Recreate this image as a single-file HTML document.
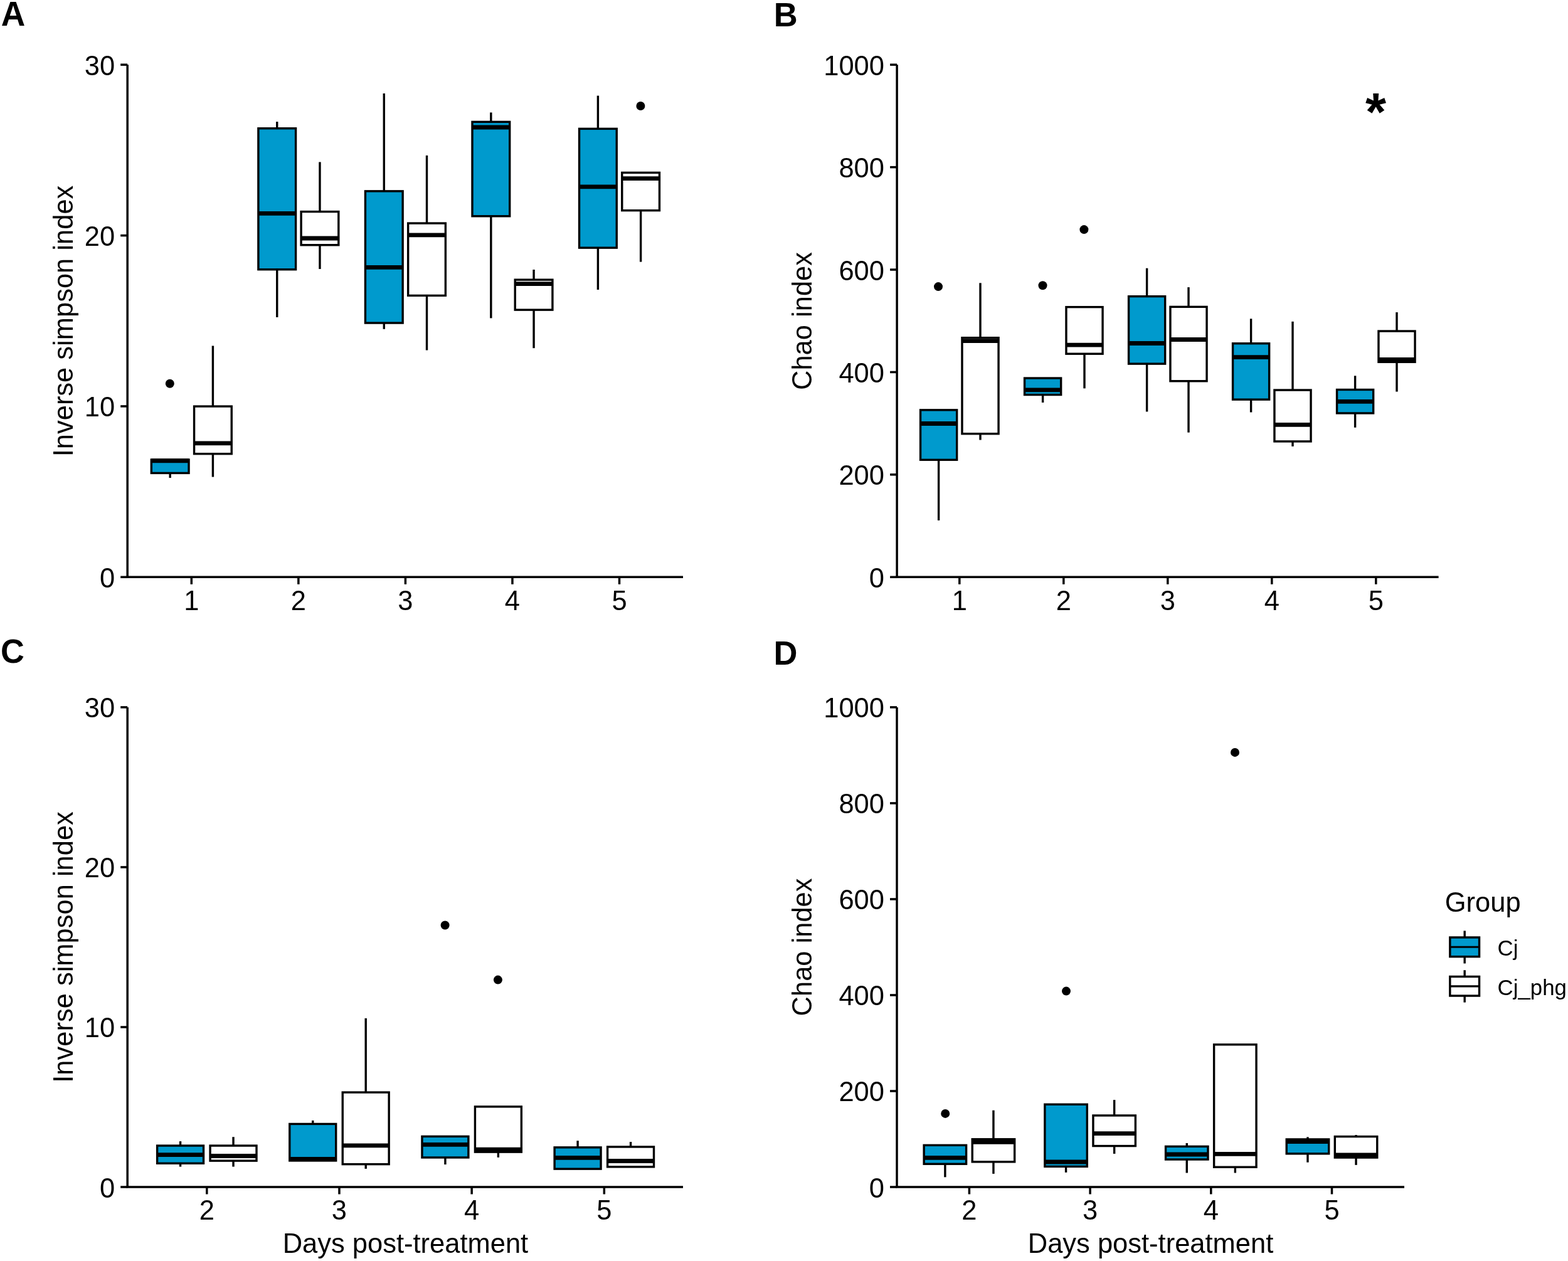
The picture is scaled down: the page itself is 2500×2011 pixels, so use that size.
<!DOCTYPE html><html><head><meta charset="utf-8"><style>html,body{margin:0;padding:0;background:#fff;}svg{display:block;}text{font-family:"Liberation Sans",Arial,sans-serif;fill:#000;stroke:none;}</style></head><body>
<svg width="2500" height="2011" viewBox="0 0 2500 2011">
<rect x="0" y="0" width="2500" height="2011" fill="#fff"/>
<g stroke="#000" stroke-width="3.4" fill="none">
<line x1="203.20" y1="103.20" x2="203.20" y2="920.30" stroke-width="3.5"/>
<line x1="201.45" y1="920.30" x2="1089.00" y2="920.30" stroke-width="3.5"/>
<line x1="192.20" y1="920.30" x2="203.20" y2="920.30" stroke-width="3.5"/>
<text transform="translate(183.20,936.80) scale(1,1.035)" font-size="43.5" text-anchor="end">0</text>
<line x1="192.20" y1="647.93" x2="203.20" y2="647.93" stroke-width="3.5"/>
<text transform="translate(183.20,664.43) scale(1,1.035)" font-size="43.5" text-anchor="end">10</text>
<line x1="192.20" y1="375.57" x2="203.20" y2="375.57" stroke-width="3.5"/>
<text transform="translate(183.20,392.07) scale(1,1.035)" font-size="43.5" text-anchor="end">20</text>
<line x1="192.20" y1="103.20" x2="203.20" y2="103.20" stroke-width="3.5"/>
<text transform="translate(183.20,119.70) scale(1,1.035)" font-size="43.5" text-anchor="end">30</text>
<line x1="305.30" y1="920.30" x2="305.30" y2="931.80" stroke-width="3.5"/>
<text transform="translate(305.30,972.90) scale(1,1.035)" font-size="43.5" text-anchor="middle">1</text>
<line x1="475.85" y1="920.30" x2="475.85" y2="931.80" stroke-width="3.5"/>
<text transform="translate(475.85,972.90) scale(1,1.035)" font-size="43.5" text-anchor="middle">2</text>
<line x1="646.40" y1="920.30" x2="646.40" y2="931.80" stroke-width="3.5"/>
<text transform="translate(646.40,972.90) scale(1,1.035)" font-size="43.5" text-anchor="middle">3</text>
<line x1="816.95" y1="920.30" x2="816.95" y2="931.80" stroke-width="3.5"/>
<text transform="translate(816.95,972.90) scale(1,1.035)" font-size="43.5" text-anchor="middle">4</text>
<line x1="987.50" y1="920.30" x2="987.50" y2="931.80" stroke-width="3.5"/>
<text transform="translate(987.50,972.90) scale(1,1.035)" font-size="43.5" text-anchor="middle">5</text>
</g>
<g stroke="#000" stroke-width="3.4">
<line x1="271.19" y1="754.45" x2="271.19" y2="762.10"/>
<rect x="241.34" y="733.05" width="59.69" height="21.40" fill="#009ACD"/>
<line x1="241.34" y1="734.80" x2="301.04" y2="734.80" stroke-width="6.8"/>
<circle cx="270.80" cy="611.80" r="7" stroke="none" fill="#000"/>
<line x1="339.41" y1="551.50" x2="339.41" y2="648.05"/>
<line x1="339.41" y1="723.75" x2="339.41" y2="760.60"/>
<rect x="309.56" y="648.05" width="59.69" height="75.70" fill="#fff"/>
<line x1="309.56" y1="706.90" x2="369.26" y2="706.90" stroke-width="6.8"/>
<line x1="441.74" y1="194.10" x2="441.74" y2="204.75"/>
<line x1="441.74" y1="429.75" x2="441.74" y2="505.90"/>
<rect x="411.89" y="204.75" width="59.69" height="225.00" fill="#009ACD"/>
<line x1="411.89" y1="340.30" x2="471.59" y2="340.30" stroke-width="6.8"/>
<line x1="509.96" y1="258.40" x2="509.96" y2="337.55"/>
<line x1="509.96" y1="390.75" x2="509.96" y2="429.00"/>
<rect x="480.11" y="337.55" width="59.69" height="53.20" fill="#fff"/>
<line x1="480.11" y1="380.00" x2="539.81" y2="380.00" stroke-width="6.8"/>
<line x1="612.29" y1="149.00" x2="612.29" y2="304.85"/>
<line x1="612.29" y1="515.05" x2="612.29" y2="524.80"/>
<rect x="582.44" y="304.85" width="59.69" height="210.20" fill="#009ACD"/>
<line x1="582.44" y1="426.30" x2="642.14" y2="426.30" stroke-width="6.8"/>
<line x1="680.51" y1="247.90" x2="680.51" y2="356.05"/>
<line x1="680.51" y1="471.35" x2="680.51" y2="558.50"/>
<rect x="650.66" y="356.05" width="59.69" height="115.30" fill="#fff"/>
<line x1="650.66" y1="374.80" x2="710.36" y2="374.80" stroke-width="6.8"/>
<line x1="782.84" y1="179.40" x2="782.84" y2="194.35"/>
<line x1="782.84" y1="344.75" x2="782.84" y2="507.40"/>
<rect x="752.99" y="194.35" width="59.69" height="150.40" fill="#009ACD"/>
<line x1="752.99" y1="203.00" x2="812.69" y2="203.00" stroke-width="6.8"/>
<line x1="851.06" y1="430.00" x2="851.06" y2="446.15"/>
<line x1="851.06" y1="494.15" x2="851.06" y2="555.20"/>
<rect x="821.21" y="446.15" width="59.69" height="48.00" fill="#fff"/>
<line x1="821.21" y1="452.60" x2="880.91" y2="452.60" stroke-width="6.8"/>
<line x1="953.39" y1="152.60" x2="953.39" y2="205.35"/>
<line x1="953.39" y1="395.15" x2="953.39" y2="462.00"/>
<rect x="923.54" y="205.35" width="59.69" height="189.80" fill="#009ACD"/>
<line x1="923.54" y1="297.80" x2="983.24" y2="297.80" stroke-width="6.8"/>
<line x1="1021.61" y1="335.65" x2="1021.61" y2="417.60"/>
<rect x="991.76" y="275.35" width="59.69" height="60.30" fill="#fff"/>
<line x1="991.76" y1="284.60" x2="1051.46" y2="284.60" stroke-width="6.8"/>
<circle cx="1021.40" cy="169.00" r="7" stroke="none" fill="#000"/>
</g>
<text transform="translate(115.70,512.00) rotate(-90) scale(1,1.035)" font-size="43.5" text-anchor="middle">Inverse simpson index</text>
<text transform="translate(1.80,40.70) scale(1,1.028)" font-size="53.3" text-anchor="start" font-weight="bold">A</text>
<g stroke="#000" stroke-width="3.4" fill="none">
<line x1="1430.10" y1="103.20" x2="1430.10" y2="920.30" stroke-width="3.5"/>
<line x1="1428.35" y1="920.30" x2="2293.60" y2="920.30" stroke-width="3.5"/>
<line x1="1419.10" y1="920.30" x2="1430.10" y2="920.30" stroke-width="3.5"/>
<text transform="translate(1410.00,936.80) scale(1,1.035)" font-size="43.5" text-anchor="end">0</text>
<line x1="1419.10" y1="756.88" x2="1430.10" y2="756.88" stroke-width="3.5"/>
<text transform="translate(1410.00,773.38) scale(1,1.035)" font-size="43.5" text-anchor="end">200</text>
<line x1="1419.10" y1="593.46" x2="1430.10" y2="593.46" stroke-width="3.5"/>
<text transform="translate(1410.00,609.96) scale(1,1.035)" font-size="43.5" text-anchor="end">400</text>
<line x1="1419.10" y1="430.04" x2="1430.10" y2="430.04" stroke-width="3.5"/>
<text transform="translate(1410.00,446.54) scale(1,1.035)" font-size="43.5" text-anchor="end">600</text>
<line x1="1419.10" y1="266.62" x2="1430.10" y2="266.62" stroke-width="3.5"/>
<text transform="translate(1410.00,283.12) scale(1,1.035)" font-size="43.5" text-anchor="end">800</text>
<line x1="1419.10" y1="103.20" x2="1430.10" y2="103.20" stroke-width="3.5"/>
<text transform="translate(1410.00,119.70) scale(1,1.035)" font-size="43.5" text-anchor="end">1000</text>
<line x1="1529.80" y1="920.30" x2="1529.80" y2="931.80" stroke-width="3.5"/>
<text transform="translate(1529.80,972.90) scale(1,1.035)" font-size="43.5" text-anchor="middle">1</text>
<line x1="1695.80" y1="920.30" x2="1695.80" y2="931.80" stroke-width="3.5"/>
<text transform="translate(1695.80,972.90) scale(1,1.035)" font-size="43.5" text-anchor="middle">2</text>
<line x1="1861.80" y1="920.30" x2="1861.80" y2="931.80" stroke-width="3.5"/>
<text transform="translate(1861.80,972.90) scale(1,1.035)" font-size="43.5" text-anchor="middle">3</text>
<line x1="2027.80" y1="920.30" x2="2027.80" y2="931.80" stroke-width="3.5"/>
<text transform="translate(2027.80,972.90) scale(1,1.035)" font-size="43.5" text-anchor="middle">4</text>
<line x1="2193.80" y1="920.30" x2="2193.80" y2="931.80" stroke-width="3.5"/>
<text transform="translate(2193.80,972.90) scale(1,1.035)" font-size="43.5" text-anchor="middle">5</text>
</g>
<g stroke="#000" stroke-width="3.4">
<line x1="1496.60" y1="733.35" x2="1496.60" y2="829.90"/>
<rect x="1467.55" y="653.85" width="58.10" height="79.50" fill="#009ACD"/>
<line x1="1467.55" y1="675.50" x2="1525.65" y2="675.50" stroke-width="6.8"/>
<circle cx="1496.00" cy="457.10" r="7" stroke="none" fill="#000"/>
<line x1="1563.00" y1="451.30" x2="1563.00" y2="538.65"/>
<line x1="1563.00" y1="691.75" x2="1563.00" y2="701.60"/>
<rect x="1533.95" y="538.65" width="58.10" height="153.10" fill="#fff"/>
<line x1="1533.95" y1="543.60" x2="1592.05" y2="543.60" stroke-width="6.8"/>
<line x1="1662.60" y1="629.55" x2="1662.60" y2="642.00"/>
<rect x="1633.55" y="603.05" width="58.10" height="26.50" fill="#009ACD"/>
<line x1="1633.55" y1="621.90" x2="1691.65" y2="621.90" stroke-width="6.8"/>
<circle cx="1662.50" cy="455.30" r="7" stroke="none" fill="#000"/>
<line x1="1729.00" y1="564.25" x2="1729.00" y2="619.40"/>
<rect x="1699.95" y="489.65" width="58.10" height="74.60" fill="#fff"/>
<line x1="1699.95" y1="550.10" x2="1758.05" y2="550.10" stroke-width="6.8"/>
<circle cx="1728.40" cy="366.10" r="7" stroke="none" fill="#000"/>
<line x1="1828.60" y1="427.70" x2="1828.60" y2="472.65"/>
<line x1="1828.60" y1="580.15" x2="1828.60" y2="656.50"/>
<rect x="1799.55" y="472.65" width="58.10" height="107.50" fill="#009ACD"/>
<line x1="1799.55" y1="547.50" x2="1857.65" y2="547.50" stroke-width="6.8"/>
<line x1="1895.00" y1="458.10" x2="1895.00" y2="489.35"/>
<line x1="1895.00" y1="607.75" x2="1895.00" y2="689.70"/>
<rect x="1865.95" y="489.35" width="58.10" height="118.40" fill="#fff"/>
<line x1="1865.95" y1="541.50" x2="1924.05" y2="541.50" stroke-width="6.8"/>
<line x1="1994.60" y1="508.30" x2="1994.60" y2="547.75"/>
<line x1="1994.60" y1="637.15" x2="1994.60" y2="657.50"/>
<rect x="1965.55" y="547.75" width="58.10" height="89.40" fill="#009ACD"/>
<line x1="1965.55" y1="569.70" x2="2023.65" y2="569.70" stroke-width="6.8"/>
<line x1="2061.00" y1="512.80" x2="2061.00" y2="622.05"/>
<line x1="2061.00" y1="703.95" x2="2061.00" y2="711.90"/>
<rect x="2031.95" y="622.05" width="58.10" height="81.90" fill="#fff"/>
<line x1="2031.95" y1="677.40" x2="2090.05" y2="677.40" stroke-width="6.8"/>
<line x1="2160.60" y1="599.30" x2="2160.60" y2="621.45"/>
<line x1="2160.60" y1="658.95" x2="2160.60" y2="681.80"/>
<rect x="2131.55" y="621.45" width="58.10" height="37.50" fill="#009ACD"/>
<line x1="2131.55" y1="640.40" x2="2189.65" y2="640.40" stroke-width="6.8"/>
<line x1="2227.00" y1="498.00" x2="2227.00" y2="528.05"/>
<line x1="2227.00" y1="577.35" x2="2227.00" y2="624.60"/>
<rect x="2197.95" y="528.05" width="58.10" height="49.30" fill="#fff"/>
<line x1="2197.95" y1="573.30" x2="2256.05" y2="573.30" stroke-width="6.8"/>
</g>
<text transform="translate(1294.00,512.00) rotate(-90) scale(1,1.035)" font-size="43.5" text-anchor="middle">Chao index</text>
<text transform="translate(1233.80,41.50) scale(1,1.035)" font-size="52.5" text-anchor="start" font-weight="bold">B</text>
<text transform="translate(2193.50,207.50)" font-size="85" text-anchor="middle" font-weight="bold">*</text>
<g stroke="#000" stroke-width="3.4" fill="none">
<line x1="203.20" y1="1127.90" x2="203.20" y2="1893.00" stroke-width="3.5"/>
<line x1="201.45" y1="1893.00" x2="1089.00" y2="1893.00" stroke-width="3.5"/>
<line x1="192.20" y1="1893.00" x2="203.20" y2="1893.00" stroke-width="3.5"/>
<text transform="translate(183.20,1909.50) scale(1,1.035)" font-size="43.5" text-anchor="end">0</text>
<line x1="192.20" y1="1637.97" x2="203.20" y2="1637.97" stroke-width="3.5"/>
<text transform="translate(183.20,1654.47) scale(1,1.035)" font-size="43.5" text-anchor="end">10</text>
<line x1="192.20" y1="1382.93" x2="203.20" y2="1382.93" stroke-width="3.5"/>
<text transform="translate(183.20,1399.43) scale(1,1.035)" font-size="43.5" text-anchor="end">20</text>
<line x1="192.20" y1="1127.90" x2="203.20" y2="1127.90" stroke-width="3.5"/>
<text transform="translate(183.20,1144.40) scale(1,1.035)" font-size="43.5" text-anchor="end">30</text>
<line x1="329.80" y1="1893.00" x2="329.80" y2="1904.50" stroke-width="3.5"/>
<text transform="translate(329.80,1944.70) scale(1,1.035)" font-size="43.5" text-anchor="middle">2</text>
<line x1="540.97" y1="1893.00" x2="540.97" y2="1904.50" stroke-width="3.5"/>
<text transform="translate(540.97,1944.70) scale(1,1.035)" font-size="43.5" text-anchor="middle">3</text>
<line x1="752.14" y1="1893.00" x2="752.14" y2="1904.50" stroke-width="3.5"/>
<text transform="translate(752.14,1944.70) scale(1,1.035)" font-size="43.5" text-anchor="middle">4</text>
<line x1="963.31" y1="1893.00" x2="963.31" y2="1904.50" stroke-width="3.5"/>
<text transform="translate(963.31,1944.70) scale(1,1.035)" font-size="43.5" text-anchor="middle">5</text>
</g>
<g stroke="#000" stroke-width="3.4">
<line x1="287.57" y1="1820.10" x2="287.57" y2="1827.05"/>
<line x1="287.57" y1="1855.25" x2="287.57" y2="1860.60"/>
<rect x="250.61" y="1827.05" width="73.91" height="28.20" fill="#009ACD"/>
<line x1="250.61" y1="1841.70" x2="324.52" y2="1841.70" stroke-width="6.8"/>
<line x1="372.03" y1="1813.20" x2="372.03" y2="1827.05"/>
<line x1="372.03" y1="1851.15" x2="372.03" y2="1860.60"/>
<rect x="335.08" y="1827.05" width="73.91" height="24.10" fill="#fff"/>
<line x1="335.08" y1="1843.50" x2="408.99" y2="1843.50" stroke-width="6.8"/>
<line x1="498.74" y1="1786.90" x2="498.74" y2="1792.45"/>
<rect x="461.78" y="1792.45" width="73.91" height="58.50" fill="#009ACD"/>
<line x1="461.78" y1="1848.30" x2="535.69" y2="1848.30" stroke-width="6.8"/>
<line x1="583.20" y1="1623.90" x2="583.20" y2="1742.05"/>
<line x1="583.20" y1="1856.65" x2="583.20" y2="1863.90"/>
<rect x="546.25" y="1742.05" width="73.91" height="114.60" fill="#fff"/>
<line x1="546.25" y1="1826.80" x2="620.16" y2="1826.80" stroke-width="6.8"/>
<line x1="709.91" y1="1845.95" x2="709.91" y2="1857.10"/>
<rect x="672.95" y="1812.35" width="73.91" height="33.60" fill="#009ACD"/>
<line x1="672.95" y1="1825.40" x2="746.86" y2="1825.40" stroke-width="6.8"/>
<circle cx="709.60" cy="1475.50" r="7" stroke="none" fill="#000"/>
<line x1="794.37" y1="1837.15" x2="794.37" y2="1845.80"/>
<rect x="757.42" y="1764.85" width="73.91" height="72.30" fill="#fff"/>
<line x1="757.42" y1="1833.10" x2="831.33" y2="1833.10" stroke-width="6.8"/>
<circle cx="793.90" cy="1562.60" r="7" stroke="none" fill="#000"/>
<line x1="921.08" y1="1819.20" x2="921.08" y2="1829.85"/>
<rect x="884.12" y="1829.85" width="73.91" height="34.30" fill="#009ACD"/>
<line x1="884.12" y1="1846.30" x2="958.03" y2="1846.30" stroke-width="6.8"/>
<line x1="1005.54" y1="1821.00" x2="1005.54" y2="1828.95"/>
<rect x="968.59" y="1828.95" width="73.91" height="31.90" fill="#fff"/>
<line x1="968.59" y1="1851.50" x2="1042.50" y2="1851.50" stroke-width="6.8"/>
</g>
<text transform="translate(115.70,1510.45) rotate(-90) scale(1,1.035)" font-size="43.5" text-anchor="middle">Inverse simpson index</text>
<text transform="translate(646.40,1997.60) scale(1,1.035)" font-size="43.5" text-anchor="middle">Days post-treatment</text>
<text transform="translate(1.05,1057.20) scale(1,1.035)" font-size="52.5" text-anchor="start" font-weight="bold">C</text>
<g stroke="#000" stroke-width="3.4" fill="none">
<line x1="1430.00" y1="1127.90" x2="1430.00" y2="1893.00" stroke-width="3.5"/>
<line x1="1428.25" y1="1893.00" x2="2239.00" y2="1893.00" stroke-width="3.5"/>
<line x1="1419.00" y1="1893.00" x2="1430.00" y2="1893.00" stroke-width="3.5"/>
<text transform="translate(1410.00,1909.50) scale(1,1.035)" font-size="43.5" text-anchor="end">0</text>
<line x1="1419.00" y1="1739.98" x2="1430.00" y2="1739.98" stroke-width="3.5"/>
<text transform="translate(1410.00,1756.48) scale(1,1.035)" font-size="43.5" text-anchor="end">200</text>
<line x1="1419.00" y1="1586.96" x2="1430.00" y2="1586.96" stroke-width="3.5"/>
<text transform="translate(1410.00,1603.46) scale(1,1.035)" font-size="43.5" text-anchor="end">400</text>
<line x1="1419.00" y1="1433.94" x2="1430.00" y2="1433.94" stroke-width="3.5"/>
<text transform="translate(1410.00,1450.44) scale(1,1.035)" font-size="43.5" text-anchor="end">600</text>
<line x1="1419.00" y1="1280.92" x2="1430.00" y2="1280.92" stroke-width="3.5"/>
<text transform="translate(1410.00,1297.42) scale(1,1.035)" font-size="43.5" text-anchor="end">800</text>
<line x1="1419.00" y1="1127.90" x2="1430.00" y2="1127.90" stroke-width="3.5"/>
<text transform="translate(1410.00,1144.40) scale(1,1.035)" font-size="43.5" text-anchor="end">1000</text>
<line x1="1545.40" y1="1893.00" x2="1545.40" y2="1904.50" stroke-width="3.5"/>
<text transform="translate(1545.40,1944.70) scale(1,1.035)" font-size="43.5" text-anchor="middle">2</text>
<line x1="1738.10" y1="1893.00" x2="1738.10" y2="1904.50" stroke-width="3.5"/>
<text transform="translate(1738.10,1944.70) scale(1,1.035)" font-size="43.5" text-anchor="middle">3</text>
<line x1="1930.80" y1="1893.00" x2="1930.80" y2="1904.50" stroke-width="3.5"/>
<text transform="translate(1930.80,1944.70) scale(1,1.035)" font-size="43.5" text-anchor="middle">4</text>
<line x1="2123.50" y1="1893.00" x2="2123.50" y2="1904.50" stroke-width="3.5"/>
<text transform="translate(2123.50,1944.70) scale(1,1.035)" font-size="43.5" text-anchor="middle">5</text>
</g>
<g stroke="#000" stroke-width="3.4">
<line x1="1506.86" y1="1856.25" x2="1506.86" y2="1877.30"/>
<rect x="1473.14" y="1826.35" width="67.44" height="29.90" fill="#009ACD"/>
<line x1="1473.14" y1="1846.30" x2="1540.58" y2="1846.30" stroke-width="6.8"/>
<circle cx="1507.20" cy="1775.90" r="7" stroke="none" fill="#000"/>
<line x1="1583.94" y1="1770.70" x2="1583.94" y2="1816.75"/>
<line x1="1583.94" y1="1852.85" x2="1583.94" y2="1871.90"/>
<rect x="1550.22" y="1816.75" width="67.44" height="36.10" fill="#fff"/>
<line x1="1550.22" y1="1821.40" x2="1617.66" y2="1821.40" stroke-width="6.8"/>
<line x1="1699.56" y1="1860.35" x2="1699.56" y2="1869.80"/>
<rect x="1665.84" y="1761.25" width="67.44" height="99.10" fill="#009ACD"/>
<line x1="1665.84" y1="1853.00" x2="1733.28" y2="1853.00" stroke-width="6.8"/>
<circle cx="1700.00" cy="1580.60" r="7" stroke="none" fill="#000"/>
<line x1="1776.64" y1="1754.10" x2="1776.64" y2="1778.95"/>
<line x1="1776.64" y1="1827.55" x2="1776.64" y2="1840.00"/>
<rect x="1742.92" y="1778.95" width="67.44" height="48.60" fill="#fff"/>
<line x1="1742.92" y1="1807.60" x2="1810.36" y2="1807.60" stroke-width="6.8"/>
<line x1="1892.26" y1="1823.00" x2="1892.26" y2="1828.35"/>
<line x1="1892.26" y1="1849.05" x2="1892.26" y2="1870.50"/>
<rect x="1858.54" y="1828.35" width="67.44" height="20.70" fill="#009ACD"/>
<line x1="1858.54" y1="1841.00" x2="1925.98" y2="1841.00" stroke-width="6.8"/>
<line x1="1969.34" y1="1861.25" x2="1969.34" y2="1870.50"/>
<rect x="1935.62" y="1665.85" width="67.44" height="195.40" fill="#fff"/>
<line x1="1935.62" y1="1840.30" x2="2003.06" y2="1840.30" stroke-width="6.8"/>
<circle cx="1969.00" cy="1199.90" r="7" stroke="none" fill="#000"/>
<line x1="2084.96" y1="1813.30" x2="2084.96" y2="1816.95"/>
<line x1="2084.96" y1="1839.85" x2="2084.96" y2="1853.70"/>
<rect x="2051.24" y="1816.95" width="67.44" height="22.90" fill="#009ACD"/>
<line x1="2051.24" y1="1820.70" x2="2118.68" y2="1820.70" stroke-width="6.8"/>
<line x1="2162.04" y1="1810.00" x2="2162.04" y2="1812.55"/>
<line x1="2162.04" y1="1846.05" x2="2162.04" y2="1857.90"/>
<rect x="2128.32" y="1812.55" width="67.44" height="33.50" fill="#fff"/>
<line x1="2128.32" y1="1841.90" x2="2195.76" y2="1841.90" stroke-width="6.8"/>
</g>
<text transform="translate(1294.00,1510.45) rotate(-90) scale(1,1.035)" font-size="43.5" text-anchor="middle">Chao index</text>
<text transform="translate(1834.50,1997.60) scale(1,1.035)" font-size="43.5" text-anchor="middle">Days post-treatment</text>
<text transform="translate(1233.60,1060.00) scale(1,1.035)" font-size="52.5" text-anchor="start" font-weight="bold">D</text>
<text transform="translate(2303.80,1454.30) scale(1,1.035)" font-size="43.5" text-anchor="start">Group</text>
<g stroke="#000" stroke-width="3.4">
<line x1="2335.2" y1="1484.4" x2="2335.2" y2="1494.95"/>
<line x1="2335.2" y1="1525.65" x2="2335.2" y2="1536.5"/>
<rect x="2311.85" y="1494.95" width="46.7" height="30.7" fill="#009ACD"/>
<line x1="2311.85" y1="1510.3" x2="2358.55" y2="1510.3" stroke-width="3.1"/>
<line x1="2335.2" y1="1547.2" x2="2335.2" y2="1557.45"/>
<line x1="2335.2" y1="1588.05" x2="2335.2" y2="1598.6"/>
<rect x="2311.85" y="1557.45" width="46.7" height="30.6" fill="#fff"/>
<line x1="2311.85" y1="1572.9" x2="2358.55" y2="1572.9" stroke-width="3.3"/>
</g>
<text transform="translate(2387.60,1523.70)" font-size="34.8" text-anchor="start">Cj</text>
<text transform="translate(2387.60,1586.50)" font-size="34.8" text-anchor="start">Cj_phg</text>
</svg></body></html>
